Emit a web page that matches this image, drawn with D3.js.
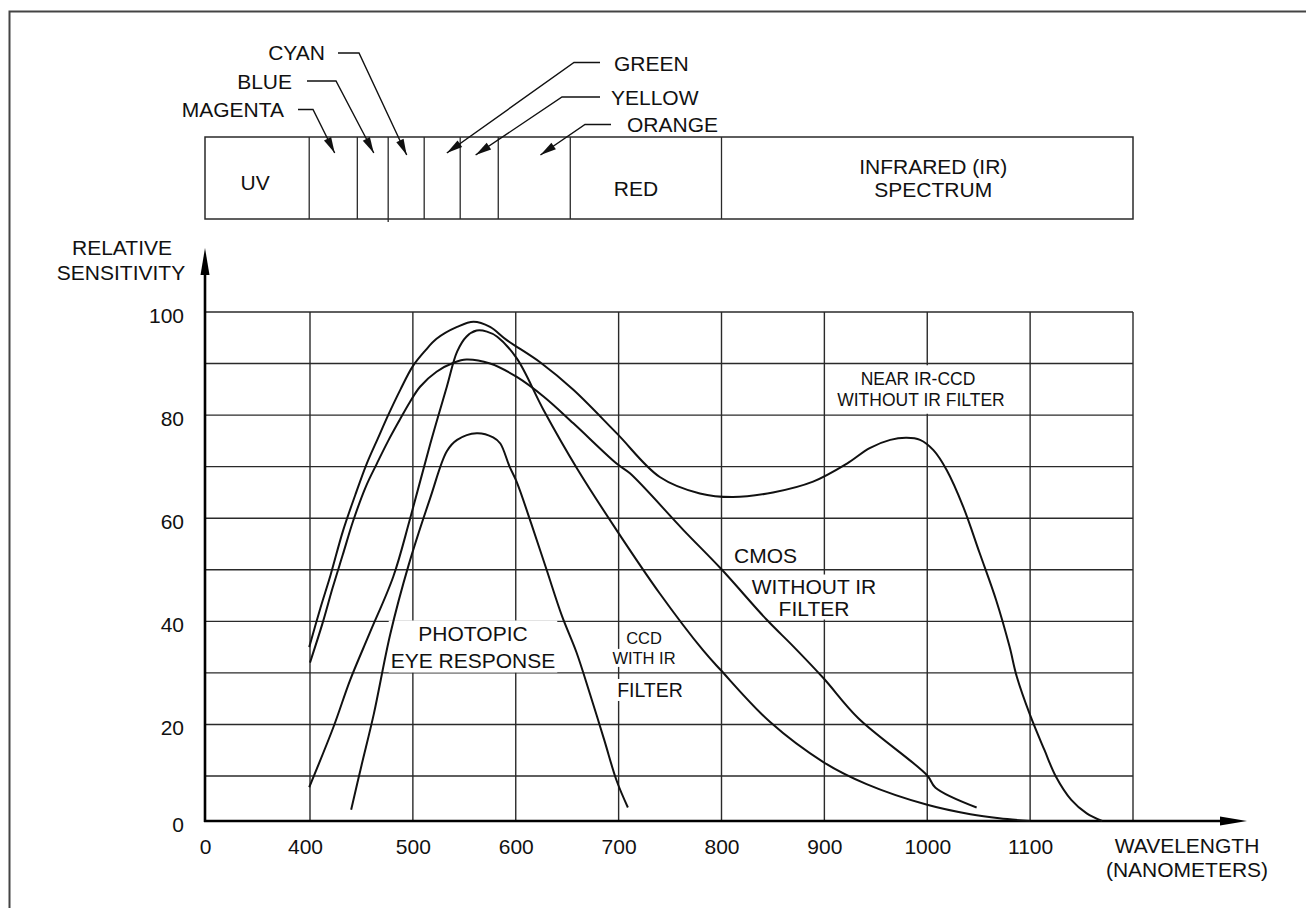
<!DOCTYPE html>
<html><head><meta charset="utf-8">
<script src="https://cdn.jsdelivr.net/npm/d3@7"></script>
<style>
html,body{margin:0;padding:0;background:#fff;}
svg{display:block;font-family:"Liberation Sans", Arial, sans-serif;}
</style></head><body>
<svg id="chart" width="1306" height="908"></svg>
<script>
// Axis ticks and grid lines
const wavelengthTicks = [0, 400, 500, 600, 700, 800, 900, 1000, 1100];
const wavelengthGrid = [400, 500, 600, 700, 800, 900, 1000, 1100, 1200];
const sensitivityTicks = [0, 20, 40, 60, 80, 100];
const sensitivityGrid = [10, 20, 30, 40, 50, 60, 70, 80, 90, 100];

// Spectrum band edges (nm) and names
const bandEdges = [0, 397, 446, 476, 511, 546, 583, 653, 800, 1200];
const bandNames = ["UV", "", "", "", "", "", "", "RED", "INFRARED (IR)|SPECTRUM"];

// Colour names with leader arrows pointing into the narrow bands
const colourNames = ["MAGENTA", "BLUE", "CYAN", "GREEN", "YELLOW", "ORANGE"];
const colourTipNm = [424, 462, 494, 533, 561, 624];

// Sensitivity curves (wavelength nm, relative sensitivity %)
const nearIrNm  = [397, 410, 420, 432, 444, 455, 466, 476, 488, 500, 512, 523, 543, 559, 575, 591, 624, 656, 698, 740, 779, 811, 850, 889, 922, 944, 964, 980, 993, 1006, 1019, 1035, 1051, 1067, 1080, 1087, 1100, 1114, 1125, 1140, 1155, 1170];
const nearIrVal = [35, 42.5, 49, 57.5, 64.5, 70.5, 75.5, 80, 85, 89.5, 92.5, 94.8, 97.1, 98.1, 97.1, 94.6, 90.2, 84.9, 76.5, 68, 64.8, 64.1, 65, 67.1, 70.6, 73.6, 75.2, 75.6, 75.2, 73.2, 69.3, 62.2, 53.2, 44.1, 35.1, 29.3, 21.8, 15, 9.9, 4.7, 1.7, 0];

const cmosNm  = [400, 412, 422, 432, 442, 454, 465, 476, 487, 497, 507, 523, 540, 552, 575, 601, 627, 656, 698, 711, 763, 800, 844, 870, 899, 933, 1000, 1008, 1048];
const cmosVal = [32, 39.5, 46.5, 53, 59.5, 66, 70.6, 75, 79, 82.5, 85.5, 88.4, 90.2, 90.8, 90, 87.4, 83.6, 78.4, 70.6, 68.7, 57.7, 50.1, 40.3, 35.1, 29, 21.2, 10.1, 7.4, 3];

const ccdNm  = [397, 423, 439, 458, 481, 497, 517, 533, 543, 552, 562, 572, 582, 601, 627, 660, 698, 740, 782, 799, 847, 899, 941, 1000, 1042, 1070, 1100];
const ccdVal = [7.5, 19.6, 28.6, 37.7, 48.7, 59.7, 74.5, 85.5, 92.3, 95.2, 96.4, 96.2, 95.2, 91, 81, 69.5, 57.7, 45.4, 34.4, 30.6, 20.5, 12.7, 8.2, 3.6, 1.5, 0.6, 0];

const photopicNm  = [440, 450, 462, 478, 496, 517, 533, 543, 562, 578, 585, 594, 601, 615, 630, 645, 659, 672, 686, 698, 709];
const photopicVal = [2.5, 12, 22, 37.5, 51, 64, 73, 75.2, 76.5, 75.7, 74.5, 70, 67, 59, 50, 41, 34, 26, 17, 9, 3];

const svg = d3.select("#chart");
const ink = "#111";
const gridInk = "#2a2a2a";

// Broken wavelength axis: the first cell spans 0-400 nm; the bottom row (0-10) is shorter
const x = d3.scaleLinear().domain([0, 400, 1200]).range([205, 310, 1133]);
const y = d3.scaleLinear().domain([0, 10, 100]).range([821, 776, 312]);

// Outer frame
svg.append("path")
  .attr("d", "M9.5,908 V11.5 H1306")
  .attr("fill", "none").attr("stroke", "#444").attr("stroke-width", 2);

// ---- Spectrum band strip ----
const stripTop = 137, stripBottom = 219;
const strip = svg.append("g");
strip.append("rect")
  .attr("x", x(0)).attr("y", stripTop)
  .attr("width", x(1200) - x(0)).attr("height", stripBottom - stripTop)
  .attr("fill", "none").attr("stroke", gridInk).attr("stroke-width", 1.5);
strip.selectAll("line.edge").data(bandEdges.slice(1, -1)).join("line")
  .attr("class", "edge")
  .attr("x1", d => x(d)).attr("x2", d => x(d))
  .attr("y1", stripTop).attr("y2", (d, i) => i === 2 ? stripBottom + 3 : stripBottom)
  .attr("stroke", gridInk).attr("stroke-width", 1.3);

const bandText = strip.selectAll("text.band")
  .data(bandNames.map((n, i) => ({ n, x0: bandEdges[i], x1: bandEdges[i + 1] })).filter(d => d.n))
  .join("text")
  .attr("class", "band")
  .attr("text-anchor", "middle")
  .attr("font-size", 21)
  .attr("fill", ink)
  .attr("transform", d => {
    const cx = (x(d.x0) + x(d.x1)) / 2;
    if (d.n === "RED") return `translate(${cx - 10},${188 + 7.5})`;
    if (d.n.includes("|")) return `translate(${cx + 6},${166 + 7.5})`;
    return `translate(${cx - 2},${182 + 7.5})`;
  });
bandText.each(function(d) {
  const lines = d.n.split("|");
  d3.select(this).selectAll("tspan").data(lines).join("tspan")
    .attr("x", 0).attr("dy", (l, i) => i === 0 ? 0 : 23)
    .text(l => l);
});

// Leader layout for the colour names
const leaderLayout = [
  { side: "left",  tx: 284, ty: 109,  hx0: 298, hx1: 313, hy: 109.5, tipY: 153 },
  { side: "left",  tx: 292, ty: 81.5, hx0: 307, hx1: 336, hy: 81,    tipY: 153 },
  { side: "left",  tx: 325, ty: 52.5, hx0: 338, hx1: 359, hy: 53,    tipY: 155 },
  { side: "right", tx: 614, ty: 63,   hx0: 600, hx1: 574, hy: 62.5,  tipY: 153 },
  { side: "right", tx: 611, ty: 97,   hx0: 600, hx1: 562, hy: 97,    tipY: 155 },
  { side: "right", tx: 627, ty: 124.5,hx0: 611, hx1: 585, hy: 124.5, tipY: 155 }
];

const leaders = svg.append("g");
colourNames.forEach((name, i) => {
  const L = leaderLayout[i];
  const tipX = x(colourTipNm[i]);
  leaders.append("text")
    .attr("x", L.tx).attr("y", L.ty + 7.5)
    .attr("text-anchor", L.side === "left" ? "end" : "start")
    .attr("font-size", 21).attr("fill", ink)
    .text(name);
  leaders.append("polyline")
    .attr("points", `${L.hx0},${L.hy} ${L.hx1},${L.hy} ${tipX},${L.tipY}`)
    .attr("fill", "none").attr("stroke", ink).attr("stroke-width", 1.4);
  // arrowhead along the diagonal
  const dx = tipX - L.hx1, dy = L.tipY - L.hy;
  const len = Math.hypot(dx, dy), ux = dx / len, uy = dy / len;
  const bx = tipX - ux * 16, by = L.tipY - uy * 16;
  leaders.append("path")
    .attr("d", `M${tipX},${L.tipY} L${bx - uy * 4},${by + ux * 4} L${bx + uy * 4},${by - ux * 4} Z`)
    .attr("fill", ink);
});

// ---- Plot grid ----
const grid = svg.append("g");
grid.selectAll("line.h").data(sensitivityGrid).join("line")
  .attr("class", "h")
  .attr("x1", x(0)).attr("x2", x(1200))
  .attr("y1", d => y(d)).attr("y2", d => y(d))
  .attr("stroke", gridInk).attr("stroke-width", 1.4);
grid.selectAll("line.v").data(wavelengthGrid).join("line")
  .attr("class", "v")
  .attr("x1", d => x(d)).attr("x2", d => x(d))
  .attr("y1", y(0)).attr("y2", y(100))
  .attr("stroke", gridInk).attr("stroke-width", 1.4);

// ---- In-plot labels with white backing ----
const labelLayer = svg.append("g");
// each line: { t: text, x: centre x, y: centre y, s: font size }
// joined: one backing box for the whole block (padded), otherwise one per line
function boxedLabel(lines, joined, padY) {
  const g = labelLayer.append("g");
  const texts = lines.map(l => g.append("text")
    .attr("text-anchor", "middle").attr("fill", ink)
    .attr("x", l.x).attr("y", l.y + l.s * 0.358)
    .attr("font-size", l.s).text(l.t));
  const boxes = texts.map(t => t.node().getBBox());
  const rects = joined
    ? [{
        x: d3.min(boxes, b => b.x), y: d3.min(boxes, b => b.y) - padY,
        x2: d3.max(boxes, b => b.x + b.width), y2: d3.max(boxes, b => b.y + b.height) + padY
      }]
    : boxes.map(b => ({ x: b.x, y: b.y, x2: b.x + b.width, y2: b.y + b.height }));
  rects.forEach(r => {
    g.insert("rect", "text")
      .attr("x", r.x - 2).attr("y", r.y)
      .attr("width", r.x2 - r.x + 4).attr("height", r.y2 - r.y)
      .attr("fill", "#fff");
  });
}
boxedLabel([
  { t: "NEAR IR-CCD", x: 918, y: 379, s: 17.5 },
  { t: "WITHOUT IR FILTER", x: 921, y: 399.5, s: 17.5 }
], true, 4);
boxedLabel([
  { t: "CMOS", x: 765.5, y: 555, s: 21 },
  { t: "WITHOUT IR", x: 814, y: 586, s: 21 },
  { t: "FILTER", x: 814, y: 608, s: 21 }
], false, 0);
boxedLabel([
  { t: "PHOTOPIC", x: 473, y: 633, s: 21 },
  { t: "EYE RESPONSE", x: 473, y: 660, s: 21 }
], true, 1);
boxedLabel([
  { t: "CCD", x: 644, y: 638, s: 16.5 },
  { t: "WITH IR", x: 644, y: 658, s: 16.5 },
  { t: "FILTER", x: 650, y: 690, s: 19.5 }
], false, 0);

// ---- Axes ----
const axisG = svg.append("g");
axisG.append("line")
  .attr("x1", x(0)).attr("x2", x(0)).attr("y1", y(0) + 1).attr("y2", 272)
  .attr("stroke", "#000").attr("stroke-width", 2.6);
axisG.append("path")
  .attr("d", `M${x(0)},248 L${x(0) - 4.5},275 L${x(0) + 4.5},275 Z`).attr("fill", "#000");
axisG.append("line")
  .attr("x1", x(0) - 1).attr("x2", 1222).attr("y1", y(0)).attr("y2", y(0))
  .attr("stroke", "#000").attr("stroke-width", 2.6);
axisG.append("path")
  .attr("d", `M1247,${y(0)} L1220,${y(0) - 4.5} L1220,${y(0) + 4.5} Z`).attr("fill", "#000");

const yAxis = svg.append("g").attr("transform", `translate(${x(0)},0)`)
  .call(d3.axisLeft(y).tickValues(sensitivityTicks).tickSize(0).tickPadding(21));
yAxis.select(".domain").remove();
yAxis.selectAll("text").attr("font-size", 21).attr("fill", ink)
  .attr("font-family", "Liberation Sans, Arial, sans-serif").attr("dy", "0.5em");

const xAxis = svg.append("g").attr("transform", `translate(0,${y(0)})`)
  .call(d3.axisBottom(x).tickValues(wavelengthTicks).tickSize(0).tickPadding(18).tickFormat(d3.format("d")));
xAxis.select(".domain").remove();
xAxis.selectAll("text").attr("font-size", 21).attr("fill", ink)
  .attr("font-family", "Liberation Sans, Arial, sans-serif")
  .attr("dx", d => d === 400 ? -5 : 0);

// Axis titles
const titles = svg.append("g").attr("font-size", 21).attr("fill", ink).attr("text-anchor", "middle");
titles.append("text").attr("x", 122).attr("y", 247 + 7.5).text("RELATIVE");
titles.append("text").attr("x", 121).attr("y", 272 + 7.5).text("SENSITIVITY");
titles.append("text").attr("x", 1187).attr("y", 845 + 7.5).text("WAVELENGTH");
titles.append("text").attr("x", 1187).attr("y", 869 + 7.5).text("(NANOMETERS)");

// ---- Curves ----
const line = d3.line()
  .x(d => x(d[0])).y(d => y(d[1]))
  .curve(d3.curveCatmullRom.alpha(0.5));
const series = [
  d3.zip(nearIrNm, nearIrVal),
  d3.zip(cmosNm, cmosVal),
  d3.zip(ccdNm, ccdVal),
  d3.zip(photopicNm, photopicVal)
];
svg.append("g").selectAll("path").data(series).join("path")
  .attr("d", line)
  .attr("fill", "none").attr("stroke", ink).attr("stroke-width", 2)
  .attr("stroke-linejoin", "round");
</script>
</body></html>
